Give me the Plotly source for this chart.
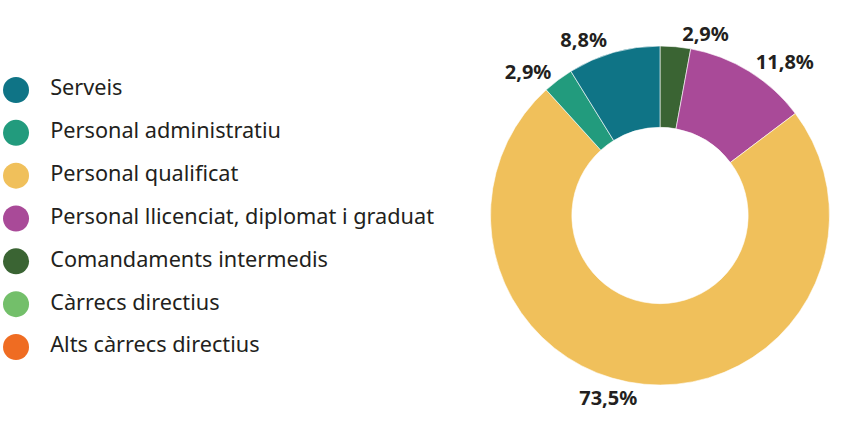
import plotly.graph_objects as go

categories = ["Serveis", "Personal administratiu", "Personal qualificat",
              "Personal llicenciat, diplomat i graduat", "Comandaments intermedis",
              "Càrrecs directius", "Alts càrrecs directius"]
values = [8.8, 2.9, 73.5, 11.8, 2.9, 0.0, 0.0]
colors = ["#0f7486", "#229b7d", "#f0c05b", "#a94a98", "#3a6433", "#73bf6a", "#ef6c22"]

labels_txt = [(f"{v:.1f}".replace(".", ",") + "%") if v > 0 else "" for v in values]

FONT = "Noto Sans"
TXT = "#231f20"

fig = go.Figure()
# slices run clockwise from 12 o'clock in reverse legend order
fig.add_trace(go.Pie(
    labels=categories[::-1], values=values[::-1], sort=False, direction="clockwise",
    rotation=0, hole=0.52, marker=dict(colors=colors[::-1], line=dict(color="white", width=0.6)),
    text=labels_txt[::-1], textinfo="text", textposition="outside",
    textfont=dict(family=FONT, size=20, color=TXT, weight="bold"),
    domain=dict(x=[490/842, 830/842], y=[46/431, 385/431]),
    showlegend=False, hoverinfo="label+percent",
))

# custom legend with large circles
idx = list(range(len(categories)))
fig.add_trace(go.Scatter(
    x=[0]*len(categories), y=idx, mode="markers+text",
    marker=dict(size=26, color=colors, line=dict(width=0)),
    text=["   " + c for c in categories], textposition="middle right",
    textfont=dict(family=FONT, size=21.7, color=TXT),
    showlegend=False, hoverinfo="skip", xaxis="x", yaxis="y",
))

fig.update_layout(
    width=842, height=431, margin=dict(l=0, r=0, t=0, b=0),
    paper_bgcolor="white", plot_bgcolor="white",
    xaxis=dict(domain=[0, 0.56], range=[-16, 455], visible=False, fixedrange=True),
    yaxis=dict(domain=[0, 1], range=[6 + 84/42.83, -90/42.83], visible=False, fixedrange=True),
    font=dict(family=FONT),
)
fig.write_html("out.html")
